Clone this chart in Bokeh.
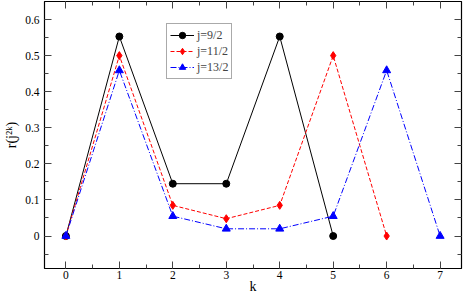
from bokeh.plotting import figure
from bokeh.models import (LinearAxis, SingleIntervalTicker, CustomJSTickFormatter,
                          Legend, LegendItem, Range1d)
from bokeh.embed import file_html
from bokeh.resources import INLINE

k_95 = [0, 1, 2, 3, 4, 5]
r_95 = [0.0, 0.553, 0.145, 0.145, 0.553, 0.0]
k_115 = [0, 1, 2, 3, 4, 5, 6]
r_115 = [0.0, 0.5, 0.085, 0.048, 0.085, 0.5, 0.0]
k_135 = [0, 1, 2, 3, 4, 5, 6, 7]
r_135 = [0.0, 0.459, 0.055, 0.020, 0.020, 0.055, 0.459, 0.0]
labels = ["j=9/2", "j=11/2", "j=13/2"]

FONT = "Liberation Serif"

p = figure(width=463, height=296, output_backend="svg", toolbar_location=None,
           x_range=Range1d(-0.4, 7.4), y_range=Range1d(-0.09, 0.65),
           min_border_left=44, min_border_right=2, min_border_top=1, min_border_bottom=28)
p.grid.visible = False
p.outline_line_color = "black"
p.background_fill_color = "white"
p.border_fill_color = "white"

fmt = CustomJSTickFormatter(code="""
if (Math.abs(tick) < 1e-9) return "0";
return tick.toFixed(1);
""")
blank = CustomJSTickFormatter(code="return '';")

def style(ax, labels_on=True):
    ax.major_tick_in = 7
    ax.major_tick_out = 0
    ax.minor_tick_in = 4
    ax.minor_tick_out = 0
    ax.axis_line_color = "black"
    ax.axis_line_width = 1.2
    ax.major_tick_line_color = "#444444"
    ax.minor_tick_line_color = "#444444"
    ax.major_label_text_font = FONT
    ax.major_label_text_font_size = "11.5px"
    ax.major_label_text_color = "black"
    ax.axis_label_text_font = FONT
    ax.axis_label_text_font_style = "normal"
    ax.axis_label_text_color = "black"
    ax.axis_label_text_font_size = "14px"
    if not labels_on:
        ax.formatter = blank
        ax.major_label_standoff = 0
        ax.axis_label = None

p.xaxis.ticker = SingleIntervalTicker(interval=1, num_minor_ticks=2)
p.yaxis.ticker = SingleIntervalTicker(interval=0.1, num_minor_ticks=2)
p.yaxis.formatter = fmt
p.xaxis.axis_label_standoff = -3
p.xaxis.major_label_standoff = 2
p.yaxis.major_label_standoff = 5
p.yaxis.axis_label_standoff = 3
for ax in p.xaxis + p.yaxis:
    style(ax)
p.xaxis.axis_label = "k"
p.yaxis.axis_label = "r(j\u00b2\u1d4f)"

top = LinearAxis(ticker=SingleIntervalTicker(interval=1, num_minor_ticks=2))
right = LinearAxis(ticker=SingleIntervalTicker(interval=0.1, num_minor_ticks=2))
style(top, False)
style(right, False)
p.add_layout(top, "above")
p.add_layout(right, "right")

l1 = p.line(k_95, r_95, line_color="black", line_width=1)
m1 = p.scatter(k_95, r_95, marker="circle", size=7, fill_color="black", line_color="black")
l2 = p.line(k_115, r_115, line_color="red", line_width=1, line_dash="4 2")
m2 = p.scatter(k_115, r_115, marker="diamond", size=8, fill_color="red", line_color="red")
l3 = p.line(k_135, r_135, line_color="blue", line_width=1, line_dash="6 2 1 2")
m3 = p.scatter(k_135, r_135, marker="triangle", size=8, fill_color="blue", line_color="blue")

legend = Legend(items=[LegendItem(label=labels[0], renderers=[l1, m1]),
                       LegendItem(label=labels[1], renderers=[l2, m2]),
                       LegendItem(label=labels[2], renderers=[l3, m3])],
                location=(122, 189), orientation="vertical",
                label_text_font=FONT, label_text_font_size="12px",
                border_line_color="#555555", border_line_width=1,
                background_fill_color="white", background_fill_alpha=1,
                padding=3, spacing=0, margin=0, label_height=16, glyph_height=16,
                glyph_width=24, label_standoff=3)
p.add_layout(legend, "center")

open("out.html", "w").write(file_html(p, INLINE))
